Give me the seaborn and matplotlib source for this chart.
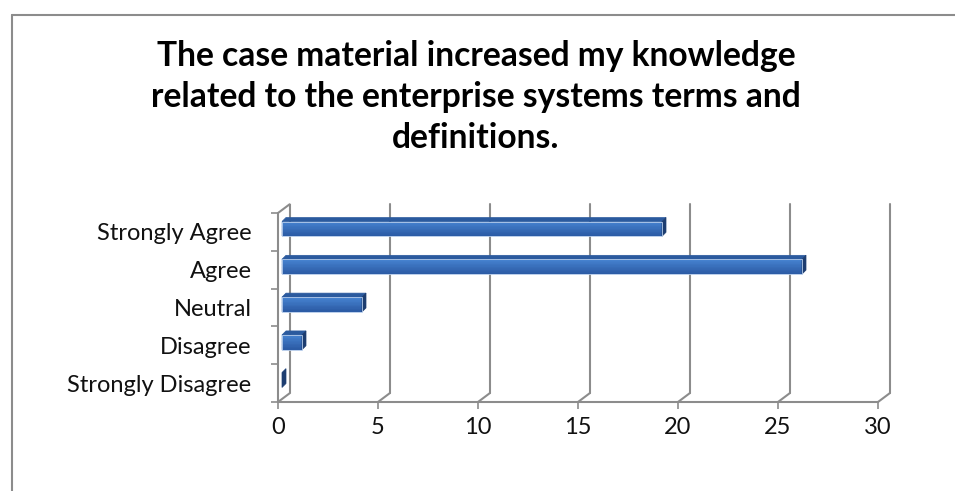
import matplotlib
matplotlib.use("Agg")
import matplotlib.pyplot as plt
import seaborn as sns
import numpy as np
from matplotlib.lines import Line2D
from matplotlib.patches import Polygon
from matplotlib.transforms import IdentityTransform
from matplotlib.colors import to_rgb

categories = ["Strongly Agree", "Agree", "Neutral", "Disagree", "Strongly Disagree"]
counts = [19, 26, 4, 1, 0]
x_ticks = [0, 5, 10, 15, 20, 25, 30]
title = ("The case material increased my knowledge\n"
         "related to the enterprise systems terms and\n"
         "definitions.")

sns.set_theme(style="white")
plt.rcParams["font.family"] = ["Lato", "DejaVu Sans"]

W, H, DPI = 955, 491, 100
fig = plt.figure(figsize=(W / DPI, H / DPI), dpi=DPI)
fig.patch.set_facecolor("white")
ax = fig.add_axes([278 / W, (H - 402) / H, 600 / W, 189 / H])
ax.set_facecolor("none")

front = "#3A70BE"
grad_top = "#4682D0"
grad_bot = "#2C5CA6"
top_c = "#2B5A9E"
side_c = "#1D3D70"
grid = "#8C8C8C"

sns.barplot(x=counts, y=categories, orient="h", color=front, width=0.39,
            saturation=1, edgecolor="#A9C2E6", linewidth=0.6, ax=ax, zorder=5)
ax.set_xlim(0, 30)
ax.set_ylim(4.5, -0.5)
ax.set_xticks(x_ticks)
ax.set_xlabel("")
ax.set_ylabel("")

fig.canvas.draw()
T = ax.transData
ID = IdentityTransform()

def d(x, y, dx=0.0, dy=0.0):
    px, py = T.transform((x, y))
    return (px + dx, py + dy)

DX, DY = 12, 9  # wall depth in pixels

wall = Polygon([d(0, 4.5), d(0, -0.5), d(0, -0.5, DX, DY), d(0, 4.5, DX, DY)],
               closed=True, facecolor="white", edgecolor=grid, lw=1.5,
               transform=ID, clip_on=False, zorder=1)
ax.add_patch(wall)

for v in x_ticks[1:]:
    p1, p2 = d(v, 4.5, DX, DY), d(v, -0.5, DX, DY)
    ax.add_line(Line2D([p1[0], p2[0]], [p1[1], p2[1]], color=grid, lw=1.5,
                       transform=ID, clip_on=False, zorder=1))
    f = d(v, 4.5)
    ax.add_line(Line2D([f[0], p1[0]], [f[1], p1[1]], color=grid, lw=1.5,
                       transform=ID, clip_on=False, zorder=1))

a, b = d(0, 4.5), d(30, 4.5)
ax.add_line(Line2D([a[0], b[0]], [a[1], b[1]], color=grid, lw=1.5,
                   transform=ID, clip_on=False, zorder=2))

BX, BY = 4, 3
FX, FY = 4, 4
ct, cb = np.array(to_rgb(grad_top)), np.array(to_rgb(grad_bot))
NB = 10
for p in list(ax.patches):
    if p is wall:
        continue
    x0, y0 = p.get_x(), p.get_y()
    w, h = p.get_width(), p.get_height()
    pa, pb = d(x0, y0, BX, BY), d(x0, y0 + h, BX, BY)
    top_y = max(pa[1], pb[1])
    bot_y = min(pa[1], pb[1])
    lx = pa[0]
    rx = d(x0 + w, y0, BX, BY)[0]
    p.set_visible(False)
    if rx > lx:
        for i in range(NB):
            t = i / (NB - 1)
            col = ct * (1 - t) + cb * t
            y1 = top_y - (top_y - bot_y) * i / NB
            y2 = top_y - (top_y - bot_y) * (i + 1) / NB
            ax.add_patch(Polygon([(lx, y2), (rx, y2), (rx, y1), (lx, y1)],
                                 closed=True, facecolor=col, edgecolor=col,
                                 lw=0.3, transform=ID, clip_on=False, zorder=6))
        ax.add_patch(Polygon([(lx, bot_y), (rx, bot_y), (rx, top_y), (lx, top_y)],
                             closed=True, facecolor="none", edgecolor="#B7CDEB",
                             lw=0.6, transform=ID, clip_on=False, zorder=7))
    ax.add_patch(Polygon([(lx, top_y), (rx, top_y), (rx + FX, top_y + FY),
                          (lx + FX, top_y + FY)], closed=True,
                         facecolor=top_c, edgecolor=top_c, lw=0.5,
                         transform=ID, clip_on=False, zorder=6))
    ax.add_patch(Polygon([(rx, bot_y), (rx + FX, bot_y + FY),
                          (rx + FX, top_y + FY), (rx, top_y)], closed=True,
                         facecolor=side_c, edgecolor=side_c, lw=0.5,
                         transform=ID, clip_on=False, zorder=6))

for s in ax.spines.values():
    s.set_visible(False)

ax.set_yticks([0, 1, 2, 3, 4])
ax.set_yticklabels(categories)
ax.set_yticks([-0.5, 0.5, 1.5, 2.5, 3.5, 4.5], minor=True)
ax.tick_params(axis="y", which="major", length=0, pad=19, labelsize=17,
               labelcolor="#111111")
ax.tick_params(axis="y", which="minor", length=5, width=1.2, color=grid,
               direction="out", left=True)
ax.tick_params(axis="x", which="major", length=5, width=1.2, color=grid,
               direction="out", bottom=True, pad=6, labelsize=17,
               labelcolor="#111111")

fig.text(476 / W, 1 - 97 / H, title, ha="center", va="center", fontsize=24.2,
         fontweight="bold", linespacing=1.33, color="black")

fig.add_artist(Line2D([12 / W, 12 / W], [0, 1 - 15 / H], color=grid, lw=1.5,
                      transform=fig.transFigure))
fig.add_artist(Line2D([12 / W, 1], [1 - 15 / H, 1 - 15 / H], color=grid, lw=1.5,
                      transform=fig.transFigure))

fig.savefig("out.png", dpi=DPI)
